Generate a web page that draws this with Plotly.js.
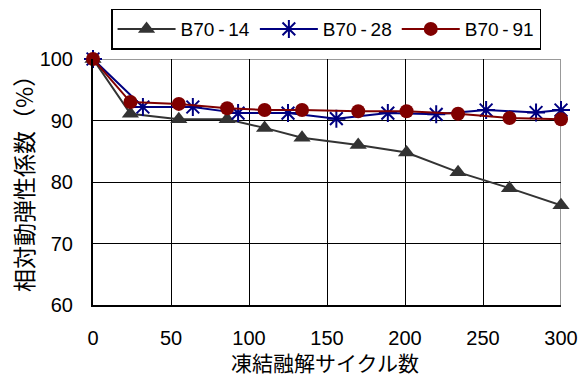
<!DOCTYPE html>
<html><head><meta charset="utf-8">
<script src="https://cdn.plot.ly/plotly-3.0.1.min.js"></script>
<style>body{margin:0;}#c{width:581px;height:378px;}</style>
</head><body><div id="c"></div>
<script>
const cyclesA = [0, 24, 55, 86, 110, 134, 170, 201, 234, 267, 300];
const cyclesB = [0, 32, 64, 93, 125, 156, 189, 220, 252, 284, 300];
const b70_14 = [100, 91.1, 90.2, 90.2, 88.8, 87.2, 86.0, 84.8, 81.6, 79.0, 76.2];
const b70_28 = [100, 92.2, 92.2, 91.2, 91.2, 90.3, 91.2, 91.0, 91.7, 91.3, 91.7];
const b70_91 = [100, 93.0, 92.7, 92.0, 91.7, 91.7, 91.5, 91.5, 91.1, 90.4, 90.2];
const names = ["B70\u2009-\u200914", "B70\u2009-\u200928", "B70\u2009-\u200991"];
const xTicks = [0, 50, 100, 150, 200, 250, 300];
const yTicks = [60, 70, 80, 90, 100];
const xTitle = "凍結融解サイクル数";
const yTitle = "相対動弾性係数（%）";

const font = "Liberation Sans, Arial, sans-serif";
const cjk = "Noto Sans CJK JP";
const traces = [
  {x: cyclesA, y: b70_14, name: names[0], mode: "lines+markers", cliponaxis: false,
   line: {color: "#333333", width: 2}, marker: {symbol: "triangle-up", size: 15, color: "#333333"}},
  {x: cyclesB, y: b70_28, name: names[1], mode: "lines+markers", cliponaxis: false,
   line: {color: "#000080", width: 2}, marker: {symbol: "asterisk-open", size: 15, color: "#000080", line: {color: "#000080", width: 2}}},
  {x: cyclesA, y: b70_91, name: names[2], mode: "lines+markers", cliponaxis: false,
   line: {color: "#800000", width: 2}, marker: {symbol: "circle", size: 14, color: "#800000"}}
];
const layout = {
  width: 581, height: 378,
  margin: {l: 93, r: 20, t: 59, b: 73, autoexpand: false},
  paper_bgcolor: "#ffffff", plot_bgcolor: "#ffffff",
  font: {family: font, size: 20, color: "#000"},
  showlegend: true,
  legend: {orientation: "h", x: 0.498, xanchor: "center", y: 1.205, yanchor: "top",
    bordercolor: "#000", borderwidth: 1.5, font: {size: 19, family: font},
    itemwidth: 58, tracegroupgap: 0},
  xaxis: {range: [0, 300], tickvals: xTicks, ticks: "", showgrid: true, gridcolor: "#000", gridwidth: 1,
    showline: true, linecolor: "#000", linewidth: 2, zeroline: false, ticklabelstandoff: 14},
  yaxis: {range: [60, 100], tickvals: yTicks, ticks: "", showgrid: true, gridcolor: "#000", gridwidth: 1,
    showline: true, linecolor: "#000", linewidth: 2, zeroline: false, ticklabelstandoff: 14},
  annotations: [
    {text: xTitle, xref: "paper", yref: "paper", x: 0.496, y: -0.232, xanchor: "center", yanchor: "middle",
     showarrow: false, borderpad: 0, font: {size: 21, family: cjk}},
    {text: yTitle, xref: "paper", yref: "paper", x: -0.1496, y: 0.516, xanchor: "center", yanchor: "middle",
     textangle: -90, showarrow: false, font: {size: 23, family: cjk}}
  ],
  shapes: [
    {type: "line", xref: "x", yref: "y", x0: 0, x1: 300, y0: 100, y1: 100, line: {color: "#999", width: 2}, layer: "below"},
    {type: "line", xref: "x", yref: "y", x0: 300, x1: 300, y0: 60, y1: 100, line: {color: "#999", width: 2}, layer: "below"}
  ]
};
Plotly.newPlot("c", traces, layout, {displayModeBar: false, staticPlot: true});
</script></body></html>
